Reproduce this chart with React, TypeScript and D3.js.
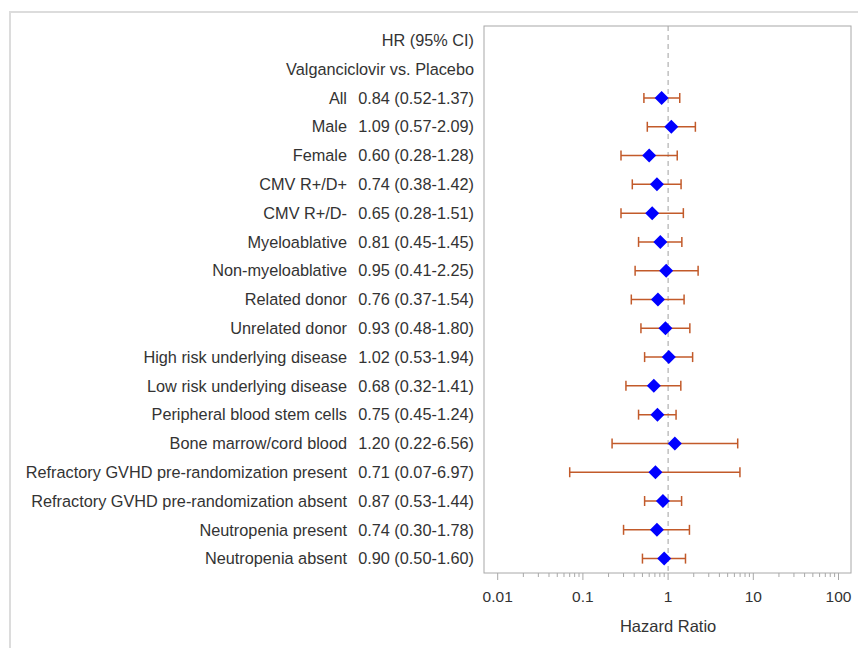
import React from "react";
import { scaleLog, scaleBand } from "d3";

// subgroup rows
const labels = [
  "All", "Male", "Female", "CMV R+/D+", "CMV R+/D-", "Myeloablative",
  "Non-myeloablative", "Related donor", "Unrelated donor",
  "High risk underlying disease", "Low risk underlying disease",
  "Peripheral blood stem cells", "Bone marrow/cord blood",
  "Refractory GVHD pre-randomization present",
  "Refractory GVHD pre-randomization absent",
  "Neutropenia present", "Neutropenia absent",
];
const hr = [0.84, 1.09, 0.60, 0.74, 0.65, 0.81, 0.95, 0.76, 0.93, 1.02, 0.68, 0.75, 1.20, 0.71, 0.87, 0.74, 0.90];
const lower = [0.52, 0.57, 0.28, 0.38, 0.28, 0.45, 0.41, 0.37, 0.48, 0.53, 0.32, 0.45, 0.22, 0.07, 0.53, 0.30, 0.50];
const upper = [1.37, 2.09, 1.28, 1.42, 1.51, 1.45, 2.25, 1.54, 1.80, 1.94, 1.41, 1.24, 6.56, 6.97, 1.44, 1.78, 1.60];
const headers = ["HR (95% CI)", "Valganciclovir vs. Placebo"];
const majorTicks = [0.01, 0.1, 1, 10, 100];
const tickLabels = ["0.01", "0.1", "1", "10", "100"];

const W = 858, H = 648;
const frame = { left: 484, right: 851, top: 26, bottom: 573 };
const font = "'Liberation Sans', Arial, sans-serif";
const textColor = "#333";
const barColor = "#c25a2a";
const fs = 16.3;

const fmt = (v: number) => v.toFixed(2);

export default function App() {
  const x = scaleLog().domain([0.01, 100]).range([497.7, 838.5]);
  const rows = [...headers.map((_, i) => "h" + i), ...labels.map((_, i) => "r" + i)];
  const y = scaleBand().domain(rows).range([frame.top, frame.bottom]).padding(0);
  const yc = (k: string) => (y(k) as number) + y.bandwidth() / 2;

  const minor: number[] = [];
  for (let d = 0.01; d < 100; d *= 10) {
    for (let m = 2; m <= 9; m++) minor.push(+(d * m).toPrecision(3));
  }

  const d = 7; // diamond half size
  const cap = 5;

  return (
    <svg width={W} height={H} style={{ position: "absolute", left: 0, top: 0 }} fontFamily={font}>
      <rect x={0} y={0} width={W} height={H} fill="#fff" />
      <path d={`M10,${H} V12 H${W}`} fill="none" stroke="#dcdcdc" strokeWidth={2} />

      {/* header text */}
      {headers.map((h, i) => (
        <text key={h} x={474} y={yc("h" + i)} dy="0.35em" textAnchor="end" fontSize={fs} fill={textColor}>{h}</text>
      ))}
      {labels.map((l, i) => (
        <g key={l}>
          <text x={347} y={yc("r" + i)} dy="0.35em" textAnchor="end" fontSize={fs} fill={textColor}>{l}</text>
          <text x={474} y={yc("r" + i)} dy="0.35em" textAnchor="end" fontSize={fs} fill={textColor}>
            {`${fmt(hr[i])} (${fmt(lower[i])}-${fmt(upper[i])})`}
          </text>
        </g>
      ))}

      {/* reference line */}
      <line x1={x(1)} x2={x(1)} y1={frame.top} y2={frame.bottom} stroke="#a0a0a0" strokeDasharray="5,4" />

      {/* CI bars and markers */}
      {labels.map((l, i) => {
        const cy = yc("r" + i);
        const x0 = x(lower[i]), x1 = x(upper[i]), cx = x(hr[i]);
        return (
          <g key={"m" + i}>
            <line x1={x0} x2={x1} y1={cy} y2={cy} stroke={barColor} strokeWidth={1.5} />
            <line x1={x0} x2={x0} y1={cy - cap} y2={cy + cap} stroke={barColor} strokeWidth={1.5} />
            <line x1={x1} x2={x1} y1={cy - cap} y2={cy + cap} stroke={barColor} strokeWidth={1.5} />
            <path d={`M${cx},${cy - d} L${cx + d},${cy} L${cx},${cy + d} L${cx - d},${cy} Z`} fill="#0000ff" />
          </g>
        );
      })}

      {/* frame */}
      <rect x={frame.left} y={frame.top} width={frame.right - frame.left} height={frame.bottom - frame.top}
        fill="none" stroke="#a8a8a8" />

      {/* x axis */}
      {majorTicks.map((t, i) => (
        <g key={"t" + t}>
          <line x1={x(t)} x2={x(t)} y1={frame.bottom} y2={frame.bottom + 7} stroke="#a8a8a8" />
          <text x={x(t)} y={597} dy="0.35em" textAnchor="middle" fontSize={15.5} fill={textColor}>{tickLabels[i]}</text>
        </g>
      ))}
      {minor.map((t) => (
        <line key={"n" + t} x1={x(t)} x2={x(t)} y1={frame.bottom} y2={frame.bottom + 4} stroke="#a8a8a8" />
      ))}
      <text x={x(1)} y={626} dy="0.35em" textAnchor="middle" fontSize={16.5} fill={textColor}>Hazard Ratio</text>
    </svg>
  );
}
